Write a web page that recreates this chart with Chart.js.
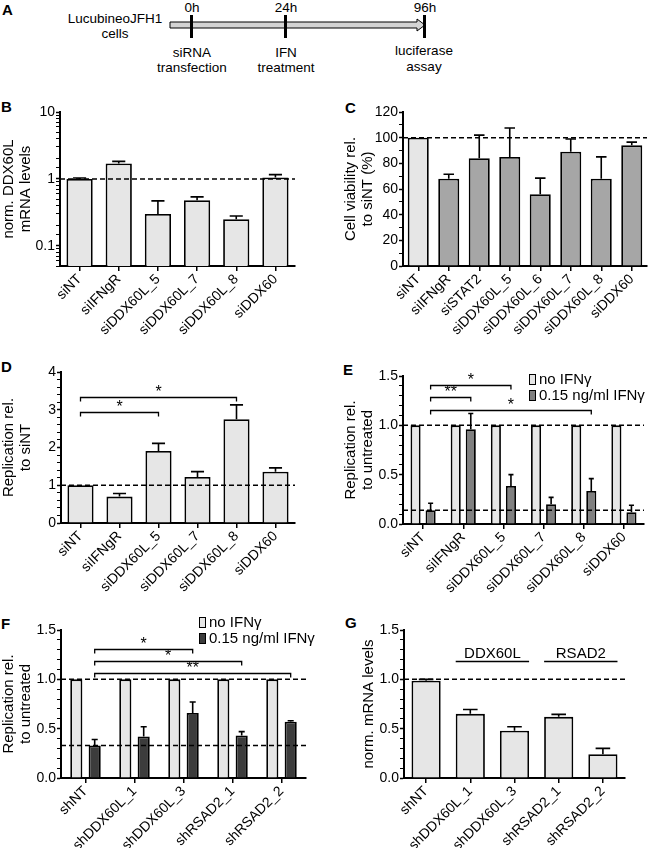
<!DOCTYPE html>
<html>
<head>
<meta charset="utf-8">
<script src="https://cdn.jsdelivr.net/npm/chart.js@4.4.0/dist/chart.umd.min.js"></script>
<style>
  body { margin: 0; background: #fff; font-family: "Liberation Sans", Arial, sans-serif; }
  #fig { position: relative; width: 650px; height: 848px; overflow: hidden; }
  .panel { position: absolute; }
  .tag { position: absolute; font-weight: bold; font-size: 15px; line-height: 15px; }
</style>
</head>
<body>
<div id="fig">
  <svg class="panel" style="left:0;top:0" width="650" height="80" font-family="Liberation Sans, Arial, sans-serif" font-size="13.5">
    <polygon points="170,22 417,22 417,19 425,25 417,31 417,28 170,28" fill="#d4d4d4" stroke="#000" stroke-width="1"/>
    <rect x="190" y="15" width="3" height="23" fill="#000"/>
    <rect x="284" y="15" width="3" height="23" fill="#000"/>
    <rect x="423" y="15" width="3" height="23" fill="#000"/>
    <g text-anchor="middle" fill="#000">
      <text x="115" y="23">LucubineoJFH1</text>
      <text x="115" y="38">cells</text>
      <text x="192" y="12">0h</text>
      <text x="286" y="12">24h</text>
      <text x="425" y="12">96h</text>
      <text x="192" y="57">siRNA</text>
      <text x="192" y="72">transfection</text>
      <text x="286" y="57">IFN</text>
      <text x="286" y="72">treatment</text>
      <text x="424" y="55">luciferase</text>
      <text x="424" y="71">assay</text>
    </g>
  </svg>
  <div class="tag" style="left:2px;top:2px">A</div>
  <div class="tag" style="left:1px;top:99px">B</div>
  <div class="tag" style="left:345px;top:100px">C</div>
  <div class="tag" style="left:1px;top:359px">D</div>
  <div class="tag" style="left:343px;top:362px">E</div>
  <div class="tag" style="left:1px;top:616px">F</div>
  <div class="tag" style="left:345px;top:615px">G</div>

  <canvas id="chartB" class="panel" style="left:0;top:95px" width="310" height="245"></canvas>
  <canvas id="chartC" class="panel" style="left:325px;top:95px" width="325" height="245"></canvas>
  <canvas id="chartD" class="panel" style="left:0;top:355px" width="310" height="245"></canvas>
  <canvas id="chartE" class="panel" style="left:325px;top:355px" width="325" height="245"></canvas>
  <canvas id="chartF" class="panel" style="left:0;top:608px" width="325" height="240"></canvas>
  <canvas id="chartG" class="panel" style="left:325px;top:608px" width="325" height="240"></canvas>
</div>

<script>
const FONT = '"Liberation Sans", Arial, sans-serif';
Chart.defaults.font.family = FONT;
Chart.defaults.color = '#000';
Chart.defaults.animation = false;

// ---- data ----
const siLabels = ['siNT', 'siIFNgR', 'siDDX60L_5', 'siDDX60L_7', 'siDDX60L_8', 'siDDX60'];
const shLabels = ['shNT', 'shDDX60L_1', 'shDDX60L_3', 'shRSAD2_1', 'shRSAD2_2'];
const legendNames = ['no IFNγ', '0.15 ng/ml IFNγ'];

// B: DDX60L mRNA (log)
const bMeans = [1.0, 1.7, 0.30, 0.48, 0.25, 1.05];
const bErr = [0.03, 0.13, 0.17, 0.06, 0.03, 0.11];

// C: cell viability
const cLabels = ['siNT', 'siIFNgR', 'siSTAT2', 'siDDX60L_5', 'siDDX60L_6', 'siDDX60L_7', 'siDDX60L_8', 'siDDX60'];
const cMeans = [100, 68, 84, 85, 56, 89, 68, 94];
const cErr = [0, 3.5, 18, 22.5, 12.5, 10, 17, 2.5];

// D: replication rel. to siNT
const dMeans = [1.0, 0.70, 1.91, 1.22, 2.75, 1.36];
const dErr = [0, 0.08, 0.20, 0.14, 0.38, 0.10];
const dSig = [
  { from: 0, to: 2, y: 2.94, text: '*' },
  { from: 0, to: 4, y: 3.34, text: '*' }
];

// E: siRNA + IFNγ
const eNoIfn = [1, 1, 1, 1, 1, 1];
const eIfn = [0.14, 0.96, 0.385, 0.20, 0.335, 0.12];
const eIfnErr = [0.07, 0.16, 0.115, 0.07, 0.125, 0.07];
const eSig = [
  { from: 0, to: 2, y: 1.41, text: '*' },
  { from: 0, to: 1, y: 1.29, text: '**' },
  { from: 0, to: 4, y: 1.155, text: '*' }
];

// F: shRNA + IFNγ
const fNoIfn = [1, 1, 1, 1, 1];
const fIfn = [0.33, 0.42, 0.66, 0.43, 0.57];
const fIfnErr = [0.06, 0.10, 0.11, 0.04, 0.01];
const fSig = [
  { from: 0, to: 2, y: 1.31, text: '*' },
  { from: 0, to: 3, y: 1.19, text: '*' },
  { from: 0, to: 4, y: 1.067, text: '**' }
];

// G: knockdown mRNA
const gMeans = [0.985, 0.65, 0.48, 0.62, 0.24];
const gErr = [0.015, 0.045, 0.04, 0.025, 0.06];
const gGroups = [
  { from: 1, to: 2, y: 1.19, text: 'DDX60L' },
  { from: 3, to: 4, y: 1.19, text: 'RSAD2' }
];

const LIGHT = '#e6e6e6', MID = '#a6a6a6', DARK_E = '#808080', DARK_F = '#3c3c3c';

// ---- plugins ----
const errorBars = {
  id: 'errorBars',
  afterDatasetsDraw(chart) {
    const ctx = chart.ctx, y = chart.scales.y;
    ctx.save();
    ctx.strokeStyle = '#000';
    ctx.lineWidth = 1.6;
    chart.data.datasets.forEach((ds, di) => {
      if (!ds.errors) return;
      chart.getDatasetMeta(di).data.forEach((bar, i) => {
        const e = ds.errors[i];
        if (!e) return;
        const top = y.getPixelForValue(ds.data[i] + e);
        const half = bar.width / 4;
        ctx.beginPath();
        ctx.moveTo(bar.x, bar.y);
        ctx.lineTo(bar.x, top);
        ctx.moveTo(bar.x - half, top);
        ctx.lineTo(bar.x + half, top);
        ctx.stroke();
      });
    });
    ctx.restore();
  }
};

const refLines = {
  id: 'refLines',
  afterDatasetsDraw(chart, args, opts) {
    if (!opts.values) return;
    const { ctx, chartArea, scales: { y } } = chart;
    ctx.save();
    ctx.setLineDash([5, 3]);
    ctx.lineWidth = 1.5;
    ctx.strokeStyle = '#000';
    opts.values.forEach(v => {
      const py = y.getPixelForValue(v);
      ctx.beginPath();
      ctx.moveTo(chartArea.left, py);
      ctx.lineTo(chartArea.right, py);
      ctx.stroke();
    });
    ctx.restore();
  }
};

const brackets = {
  id: 'brackets',
  afterDraw(chart, args, opts) {
    const items = opts.items || [];
    const { ctx, scales: { y } } = chart;
    ctx.save();
    ctx.strokeStyle = '#000';
    ctx.fillStyle = '#000';
    ctx.lineWidth = 1.3;
    items.forEach(b => {
      const bars = chart.getDatasetMeta(opts.ds || 0).data;
      const a = bars[b.from], c = bars[b.to];
      const py = Math.round(y.getPixelForValue(b.y)) + 0.5;
      let x1 = a.x, x2 = c.x, drop = 4;
      if (opts.span) { x1 = a.x - a.width / 2; x2 = c.x + c.width / 2; drop = 0; }
      ctx.beginPath();
      ctx.moveTo(x1, py + drop);
      ctx.lineTo(x1, py);
      ctx.lineTo(x2, py);
      ctx.lineTo(x2, py + drop);
      ctx.stroke();
      ctx.font = (opts.span ? '15px ' : '16px ') + FONT;
      ctx.textAlign = 'center';
      ctx.textBaseline = 'alphabetic';
      ctx.fillText(b.text, (x1 + x2) / 2, py - (opts.span ? 4 : 1));
    });
    ctx.restore();
  }
};

const boxLegend = {
  id: 'boxLegend',
  afterDraw(chart, args, opts) {
    if (opts.x === undefined) return;
    const ctx = chart.ctx;
    ctx.save();
    ctx.font = '15px ' + FONT;
    ctx.textBaseline = 'middle';
    ctx.lineWidth = 1;
    chart.data.datasets.forEach((ds, i) => {
      const top = opts.y + i * 16;
      ctx.fillStyle = ds.backgroundColor;
      ctx.fillRect(opts.x, top, 6, 10);
      ctx.strokeStyle = '#000';
      ctx.strokeRect(opts.x + 0.5, top + 0.5, 6, 10);
      ctx.fillStyle = '#000';
      ctx.fillText(ds.label, opts.x + 10, top + 5.5);
    });
    ctx.restore();
  }
};

// ---- helpers ----
function yAxis(o) {
  return {
    type: o.type || 'linear',
    min: o.min,
    max: o.max,
    grid: {
      drawOnChartArea: false,
      tickLength: 4,
      color: '#000',
      tickWidth: c => (c.tick && o.major(c.tick.value)) ? 1.5 : 1
    },
    border: { color: '#000', width: 2 },
    ticks: {
      stepSize: o.step,
      autoSkip: false,
      padding: 1,
      font: { size: 14 },
      callback: v => o.major(v) ? o.fmt(v) : ''
    },
    title: {
      display: true,
      text: o.title,
      font: { size: 15, lineHeight: 1.1 },
      padding: { top: 1, bottom: 0 }
    },
    afterFit: s => { s.width = o.width; }
  };
}

function panel(id, o) {
  return new Chart(document.getElementById(id), {
    type: 'bar',
    data: { labels: o.labels, datasets: o.datasets },
    options: {
      responsive: false,
      layout: { padding: { left: o.padL, right: o.padR, top: o.padT, bottom: 0 } },
      datasets: {
        bar: {
          categoryPercentage: o.cat,
          barPercentage: o.bar,
          borderColor: '#000',
          borderWidth: 1.8
        }
      },
      plugins: {
        legend: { display: false },
        tooltip: { enabled: false },
        refLines: { values: o.refs },
        brackets: o.marks || {},
        boxLegend: o.legend || {}
      },
      scales: {
        x: {
          grid: { drawOnChartArea: false, offset: false, tickLength: 5, color: '#000', lineWidth: 1.5 },
          border: { color: '#000', width: 2 },
          ticks: { minRotation: 45, maxRotation: 45, padding: 0, autoSkip: false, font: { size: 14 } },
          afterFit: s => { s.height = o.xH; }
        },
        y: o.y
      }
    },
    plugins: [errorBars, refLines, brackets, boxLegend]
  });
}

const isInt = v => Math.abs(v - Math.round(v)) < 1e-6;
const isHalf = v => isInt(v * 2);

// ---- B ----
panel('chartB', {
  labels: siLabels,
  datasets: [{ data: bMeans, errors: bErr, backgroundColor: LIGHT }],
  padL: 0, padR: 15, padT: 17, xH: 74, cat: 1, bar: 0.67,
  refs: [1],
  y: yAxis({
    type: 'logarithmic', min: 0.05, max: 10,
    major: v => isInt(Math.log10(v)),
    fmt: v => String(v),
    title: ['norm. DDX60L', 'mRNA levels'], width: 60
  })
});

// ---- C ----
panel('chartC', {
  labels: cLabels,
  datasets: [{
    data: cMeans, errors: cErr,
    backgroundColor: cLabels.map((l, i) => i === 0 ? LIGHT : MID)
  }],
  padL: 17, padR: 3, padT: 17, xH: 74, cat: 1, bar: 0.69,
  refs: [100],
  y: yAxis({
    min: 0, max: 120, step: 10,
    major: v => v % 20 === 0,
    fmt: v => String(v),
    title: ['Cell viability rel.', 'to siNT (%)'], width: 61
  })
});

// ---- D ----
panel('chartD', {
  labels: siLabels,
  datasets: [{ data: dMeans, errors: dErr, backgroundColor: LIGHT }],
  padL: 0, padR: 15, padT: 17, xH: 77, cat: 1, bar: 0.67,
  refs: [1],
  marks: { items: dSig, ds: 0 },
  y: yAxis({
    min: 0, max: 4, step: 0.2,
    major: isInt,
    fmt: v => String(Math.round(v)),
    title: ['Replication rel.', 'to siNT'], width: 61
  })
});

// ---- E ----
panel('chartE', {
  labels: siLabels,
  datasets: [
    { label: legendNames[0], data: eNoIfn, backgroundColor: LIGHT },
    { label: legendNames[1], data: eIfn, errors: eIfnErr, backgroundColor: DARK_E }
  ],
  padL: 17, padR: 6, padT: 21, xH: 76, cat: 0.75, bar: 0.67,
  refs: [1, eIfn[0]],
  marks: { items: eSig, ds: 1 },
  legend: { x: 204, y: 19 },
  y: yAxis({
    min: 0, max: 1.5, step: 0.1,
    major: isHalf,
    fmt: v => v.toFixed(1),
    title: ['Replication rel.', 'to untreated'], width: 61
  })
});

// ---- F ----
panel('chartF', {
  labels: shLabels,
  datasets: [
    { label: legendNames[0], data: fNoIfn, backgroundColor: LIGHT },
    { label: legendNames[1], data: fIfn, errors: fIfnErr, backgroundColor: DARK_F }
  ],
  padL: 0, padR: 19, padT: 22, xH: 70, cat: 0.75, bar: 0.66,
  refs: [1, fIfn[0]],
  marks: { items: fSig, ds: 1 },
  legend: { x: 199, y: 9 },
  y: yAxis({
    min: 0, max: 1.5, step: 0.1,
    major: isHalf,
    fmt: v => v.toFixed(1),
    title: ['Replication rel.', 'to untreated'], width: 61
  })
});

// ---- G ----
panel('chartG', {
  labels: shLabels,
  datasets: [{ data: gMeans, errors: gErr, backgroundColor: LIGHT }],
  padL: 35, padR: 25, padT: 22, xH: 70, cat: 1, bar: 0.66,
  refs: [1],
  marks: { items: gGroups, ds: 0, span: true },
  y: yAxis({
    min: 0, max: 1.5, step: 0.1,
    major: isHalf,
    fmt: v => v.toFixed(1),
    title: 'norm. mRNA levels', width: 44
  })
});
</script>
</body>
</html>
